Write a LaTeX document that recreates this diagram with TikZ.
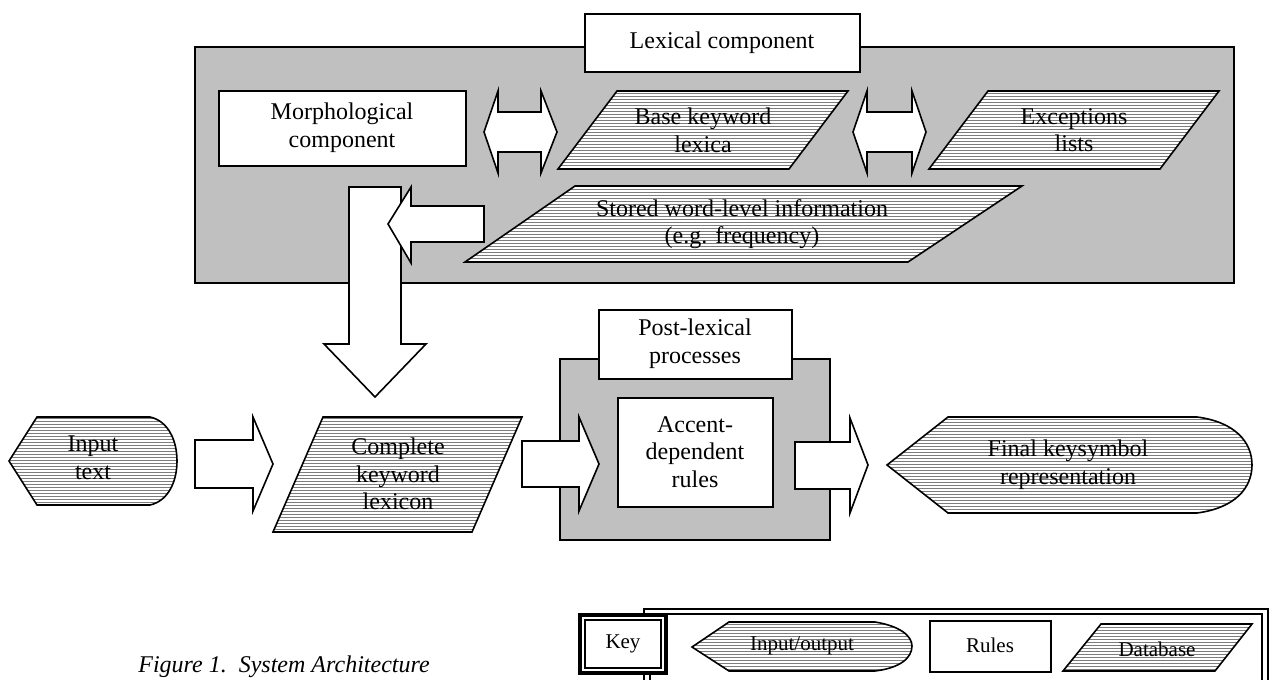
\documentclass[tikz,border=0pt]{standalone}
\usepackage{fontspec}
\setmainfont{Liberation Serif}
\usetikzlibrary{patterns.meta}
\definecolor{lgrey}{RGB}{192,192,192}
\definecolor{hatchc}{RGB}{125,125,125}
\tikzdeclarepattern{
  name=hlines,
  type=uncolored,
  bounding box={(0pt,0pt) and (1pt,1.7pt)},
  tile size={(1pt,1.7pt)},
  code={\draw[line width=0.45pt] (-0.5pt,0.85pt) -- (1.5pt,0.85pt);}
}
\begin{document}
\begin{tikzpicture}[x=0.5pt,y=-0.5pt,
  every node/.style={font=\fontsize{12}{13.8}\selectfont, align=center, inner sep=0pt},
  ln/.style={line width=0.8pt, line join=miter},
  greybox/.style={ln, draw=black, fill=lgrey},
  whitebox/.style={ln, draw=black, fill=white},
  hatch/.style={ln, draw=black, preaction={fill=white}, pattern=hlines, pattern color=hatchc},
  barrow/.style={ln, draw=black, fill=white},
  legend/.style={font=\fontsize{10.5}{12}\selectfont},
  frameline/.style={line width=1pt, draw=black},
]
\useasboundingbox (0,0) rectangle (1270,680);
\begin{scope}
\clip (0,0) rectangle (1270,680);
% ---------- Lexical component ----------
\path[greybox] (195,47) rectangle (1234,283);
\path[whitebox] (585,14) rectangle (860,72);
\node (lex) at (722,43) {Lexical component};
\path[whitebox] (219,91) rectangle (466,166);
\node (morph) at (342,128) {Morphological\\component};
\path[barrow] (484,132) -- (498,91) -- (498,112) -- (541,112) -- (541,91) -- (557,132) -- (541,173) -- (541,152) -- (498,152) -- (498,173) -- cycle;
\path[hatch] (617,91) -- (848,91) -- (789,169) -- (558,169) -- cycle;
\node (base) at (703,130) {Base keyword\\lexica};
\path[barrow] (853,132) -- (867,91) -- (867,112) -- (912,112) -- (912,91) -- (926,132) -- (912,173) -- (912,152) -- (867,152) -- (867,173) -- cycle;
\path[hatch] (988,91) -- (1219,91) -- (1160,169) -- (929,169) -- cycle;
\node (exc) at (1074,130) {Exceptions\\lists};
\path[hatch] (575,186) -- (1022,186) -- (908,262) -- (465,262) -- cycle;
\node (stored) at (742,224) {Stored word-level information\\(e.g. frequency)};
% vertical arrow
\path[barrow] (349,187) -- (401,187) -- (401,344) -- (426,344) -- (375,397) -- (324,344) -- (349,344) -- cycle;
% left arrow
\path[barrow] (388,224) -- (411,187) -- (411,206) -- (484,206) -- (484,242) -- (411,242) -- (411,263) -- cycle;
% ---------- main row ----------
\path[hatch] (9,461) -- (37,417) -- (150,417) .. controls (168,421) and (177,440) .. (177,461) .. controls (177,482) and (168,501) .. (150,505) -- (37,505) -- cycle;
\node (inp) at (93,458) {Input\\text};
\path[barrow] (195,440) -- (253,440) -- (253,417) -- (273,464) -- (253,511) -- (253,488) -- (195,488) -- cycle;
\path[hatch] (323,417) -- (522,417) -- (472,532) -- (273,532) -- cycle;
\node (comp) at (398,474) {Complete\\keyword\\lexicon};
\path[greybox] (560,359) rectangle (830,540);
\path[whitebox] (599,310) rectangle (792,379);
\node (post) at (695,344) {Post-lexical\\processes};
\path[whitebox] (618,398) rectangle (773,507);
\node (acc) at (695,452) {Accent-\\dependent\\rules};
\path[barrow] (522,441) -- (579,441) -- (579,417) -- (599,464) -- (579,511) -- (579,487) -- (522,487) -- cycle;
\path[barrow] (795,442) -- (850,442) -- (850,418) -- (868,465) -- (850,513) -- (850,489) -- (795,489) -- cycle;
\path[hatch] (887,465) -- (948,417) -- (1197,417) .. controls (1235,422) and (1252,442) .. (1252,465) .. controls (1252,488) and (1235,508) .. (1197,513) -- (948,513) -- cycle;
\node (final) at (1068,465) {Final keysymbol\\representation};
% ---------- legend ----------
\draw[frameline] (644,700) -- (644,609) -- (1268,609) -- (1268,700);
\draw[frameline] (650,700) -- (650,614) -- (1262,614) -- (1262,700);
\path[draw=black, fill=white, line width=1.6pt] (580,615) rectangle (666,673);
\path[draw=black, line width=0.8pt] (585,620) rectangle (661,668);
\node[legend] (key) at (623,644) {Key};
\path[hatch] (692,647) -- (729,622) -- (875,622) .. controls (900,626) and (912,636) .. (912,646) .. controls (912,658) and (900,668) .. (875,671) -- (729,671) -- cycle;
\node[legend] (io) at (802,646) {Input/output};
\path[whitebox] (930,621) rectangle (1051,672);
\node[legend] (rules) at (990,645) {Rules};
\path[hatch] (1101,624) -- (1252,624) -- (1215,671) -- (1063,671) -- cycle;
\node[legend] (db) at (1157,649) {Database};
\node[anchor=west, font=\fontsize{12}{14}\selectfont\itshape] (cap) at (138,667) {Figure 1.\ \ System Architecture};
\end{scope}
\end{tikzpicture}
\end{document}
